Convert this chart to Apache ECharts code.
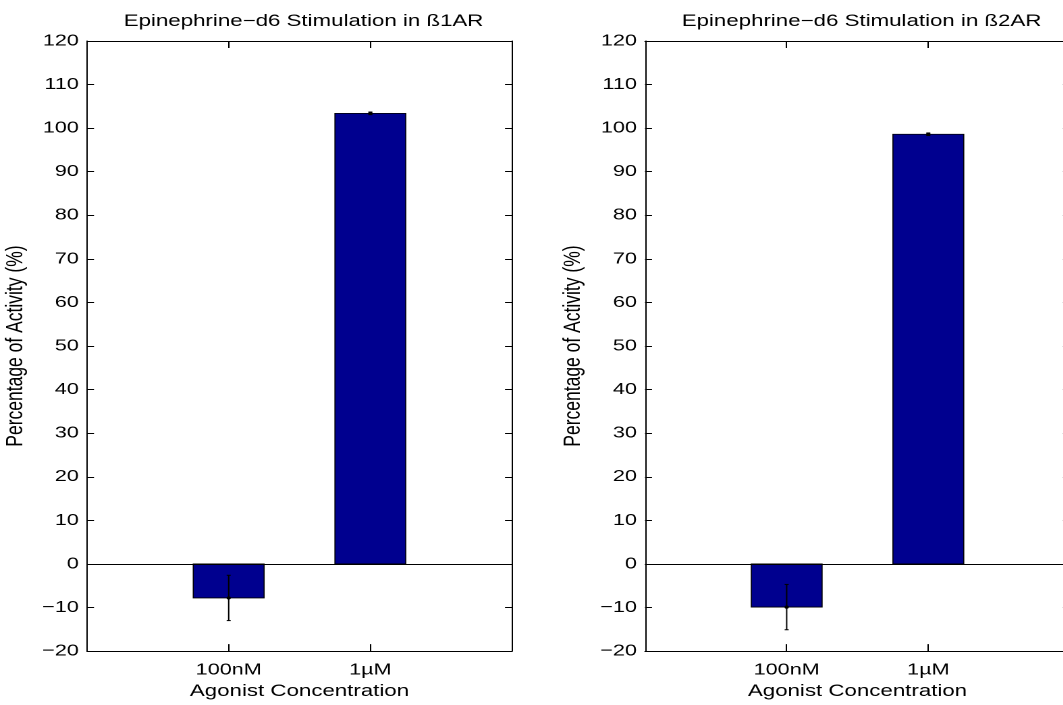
<!DOCTYPE html>
<html>
<head>
<meta charset="utf-8">
<script src="https://cdn.jsdelivr.net/npm/echarts@6/dist/echarts.min.js"></script>
<style>
html,body{margin:0;padding:0;width:1063px;height:705px;overflow:hidden;background:#fff;}
#main{width:800px;height:705px;transform:scaleX(1.35);transform-origin:0 0;}
</style>
</head>
<body>
<div id="main"></div>
<script>
// ---- data ----
const categories = ['100nM', '1µM'];
const positions = [1, 2];
const titles = ['Epinephrine\u2212d6 Stimulation in ß1AR', 'Epinephrine\u2212d6 Stimulation in ß2AR'];
const b1Values = [-7.8, 103.4];
const b1Errors = [5.2, 0.3];
const b2Values = [-9.9, 98.6];
const b2Errors = [5.2, 0.3];
const yMin = -20, yMax = 120, yStep = 10;
const xMin = 0, xMax = 3;
const xName = 'Agonist Concentration';
const yName = 'Percentage of Activity (%)';

// ---- layout ----
const S = 1.35; // horizontal stretch of the reference image
const FONT = 'Liberation Sans, Arial, Helvetica, sans-serif';
const gridsPx = [{left: 87, width: 425}, {left: 645, width: 425}];
const gridTop = 41, gridHeight = 615;
const barHalf = 0.25;

const chart = echarts.init(document.getElementById('main'), null, {devicePixelRatio: 2});

const grid = [], xAxis = [], yAxis = [], series = [], title = [];
const panels = [{v: b1Values, e: b1Errors}, {v: b2Values, e: b2Errors}];

panels.forEach((pn, i) => {
  const g = gridsPx[i];
  grid.push({left: g.left / S, top: gridTop, width: g.width / S, height: gridHeight, containLabel: false});
  title.push({
    text: titles[i], left: (g.left + g.width / 2) / S - 2, top: 8, textAlign: 'center',
    textStyle: {fontFamily: FONT, fontSize: 16.5, fontWeight: 'normal', color: '#000'}
  });
  const axLine = {show: true, onZero: false, lineStyle: {color: '#000', width: 1}};
  xAxis.push({
    type: 'value', gridIndex: i, position: 'bottom', min: xMin, max: xMax, interval: 1,
    axisLine: axLine, splitLine: {show: false},
    axisTick: {inside: true, length: 7, lineStyle: {color: '#000'}},
    axisLabel: {
      color: '#000', fontFamily: FONT, fontSize: 16, margin: 11,
      formatter: v => { const k = positions.indexOf(v); return k >= 0 ? categories[k] : ''; }
    },
    name: xName, nameLocation: 'middle', nameGap: 31,
    nameTextStyle: {color: '#000', fontFamily: FONT, fontSize: 16.5}
  });
  xAxis.push({
    type: 'value', gridIndex: i, position: 'top', min: xMin, max: xMax, interval: 1,
    axisLine: axLine, splitLine: {show: false},
    axisTick: {inside: true, length: 7, lineStyle: {color: '#000'}},
    axisLabel: {show: false}
  });
  yAxis.push({
    type: 'value', gridIndex: i, position: 'left', min: yMin, max: yMax, interval: yStep,
    axisLine: axLine, splitLine: {show: false},
    axisTick: {inside: true, length: 7 / S, lineStyle: {color: '#000'}},
    axisLabel: {
      color: '#000', fontFamily: FONT, fontSize: 16, margin: 6,
      formatter: v => String(v).replace('-', '\u2212')
    },
    name: yName, nameLocation: 'middle', nameRotate: 90, nameGap: 44,
    nameTextStyle: {color: '#000', fontFamily: FONT, fontSize: 17.5}
  });
  yAxis.push({
    type: 'value', gridIndex: i, position: 'right', min: yMin, max: yMax, interval: yStep,
    axisLine: axLine, splitLine: {show: false},
    axisTick: {inside: true, length: 7 / S, lineStyle: {color: '#000'}},
    axisLabel: {show: false}
  });

  series.push({
    type: 'custom', xAxisIndex: 2 * i, yAxisIndex: 2 * i,
    data: positions.map((p, k) => [p, pn.v[k]]),
    renderItem: (params, api) => {
      const x = api.value(0), v = api.value(1);
      const p1 = api.coord([x - barHalf, v]);
      const p2 = api.coord([x + barHalf, 0]);
      return {
        type: 'rect',
        shape: {x: Math.min(p1[0], p2[0]), y: Math.min(p1[1], p2[1]),
                width: Math.abs(p2[0] - p1[0]), height: Math.abs(p2[1] - p1[1])},
        style: {fill: '#00008F', stroke: '#000', lineWidth: 0.8}
      };
    },
    markLine: {
      silent: true, symbol: 'none', label: {show: false},
      lineStyle: {color: '#000', type: 'solid', width: 1},
      data: [{yAxis: 0}]
    },
    z: 2
  });
  series.push({
    type: 'custom', xAxisIndex: 2 * i, yAxisIndex: 2 * i,
    data: positions.map((p, k) => [p, pn.v[k], pn.e[k]]),
    renderItem: (params, api) => {
      const x = api.value(0), v = api.value(1), e = api.value(2);
      const t = api.coord([x, v + e]);
      const b = api.coord([x, v - e]);
      const m = api.coord([x, v]);
      const cap = 1.5;
      const st = {stroke: '#000', lineWidth: 1};
      return {
        type: 'group',
        children: [
          {type: 'line', shape: {x1: t[0], y1: t[1], x2: b[0], y2: b[1]}, style: st},
          {type: 'line', shape: {x1: t[0] - cap, y1: t[1], x2: t[0] + cap, y2: t[1]}, style: st},
          {type: 'line', shape: {x1: b[0] - cap, y1: b[1], x2: b[0] + cap, y2: b[1]}, style: st},
          {type: 'circle', shape: {cx: m[0], cy: m[1], r: 1.6}, style: {fill: '#000'}}
        ]
      };
    },
    z: 3
  });
});

chart.setOption({
  animation: false,
  backgroundColor: '#fff',
  title, grid, xAxis, yAxis, series
});
</script>
</body>
</html>
